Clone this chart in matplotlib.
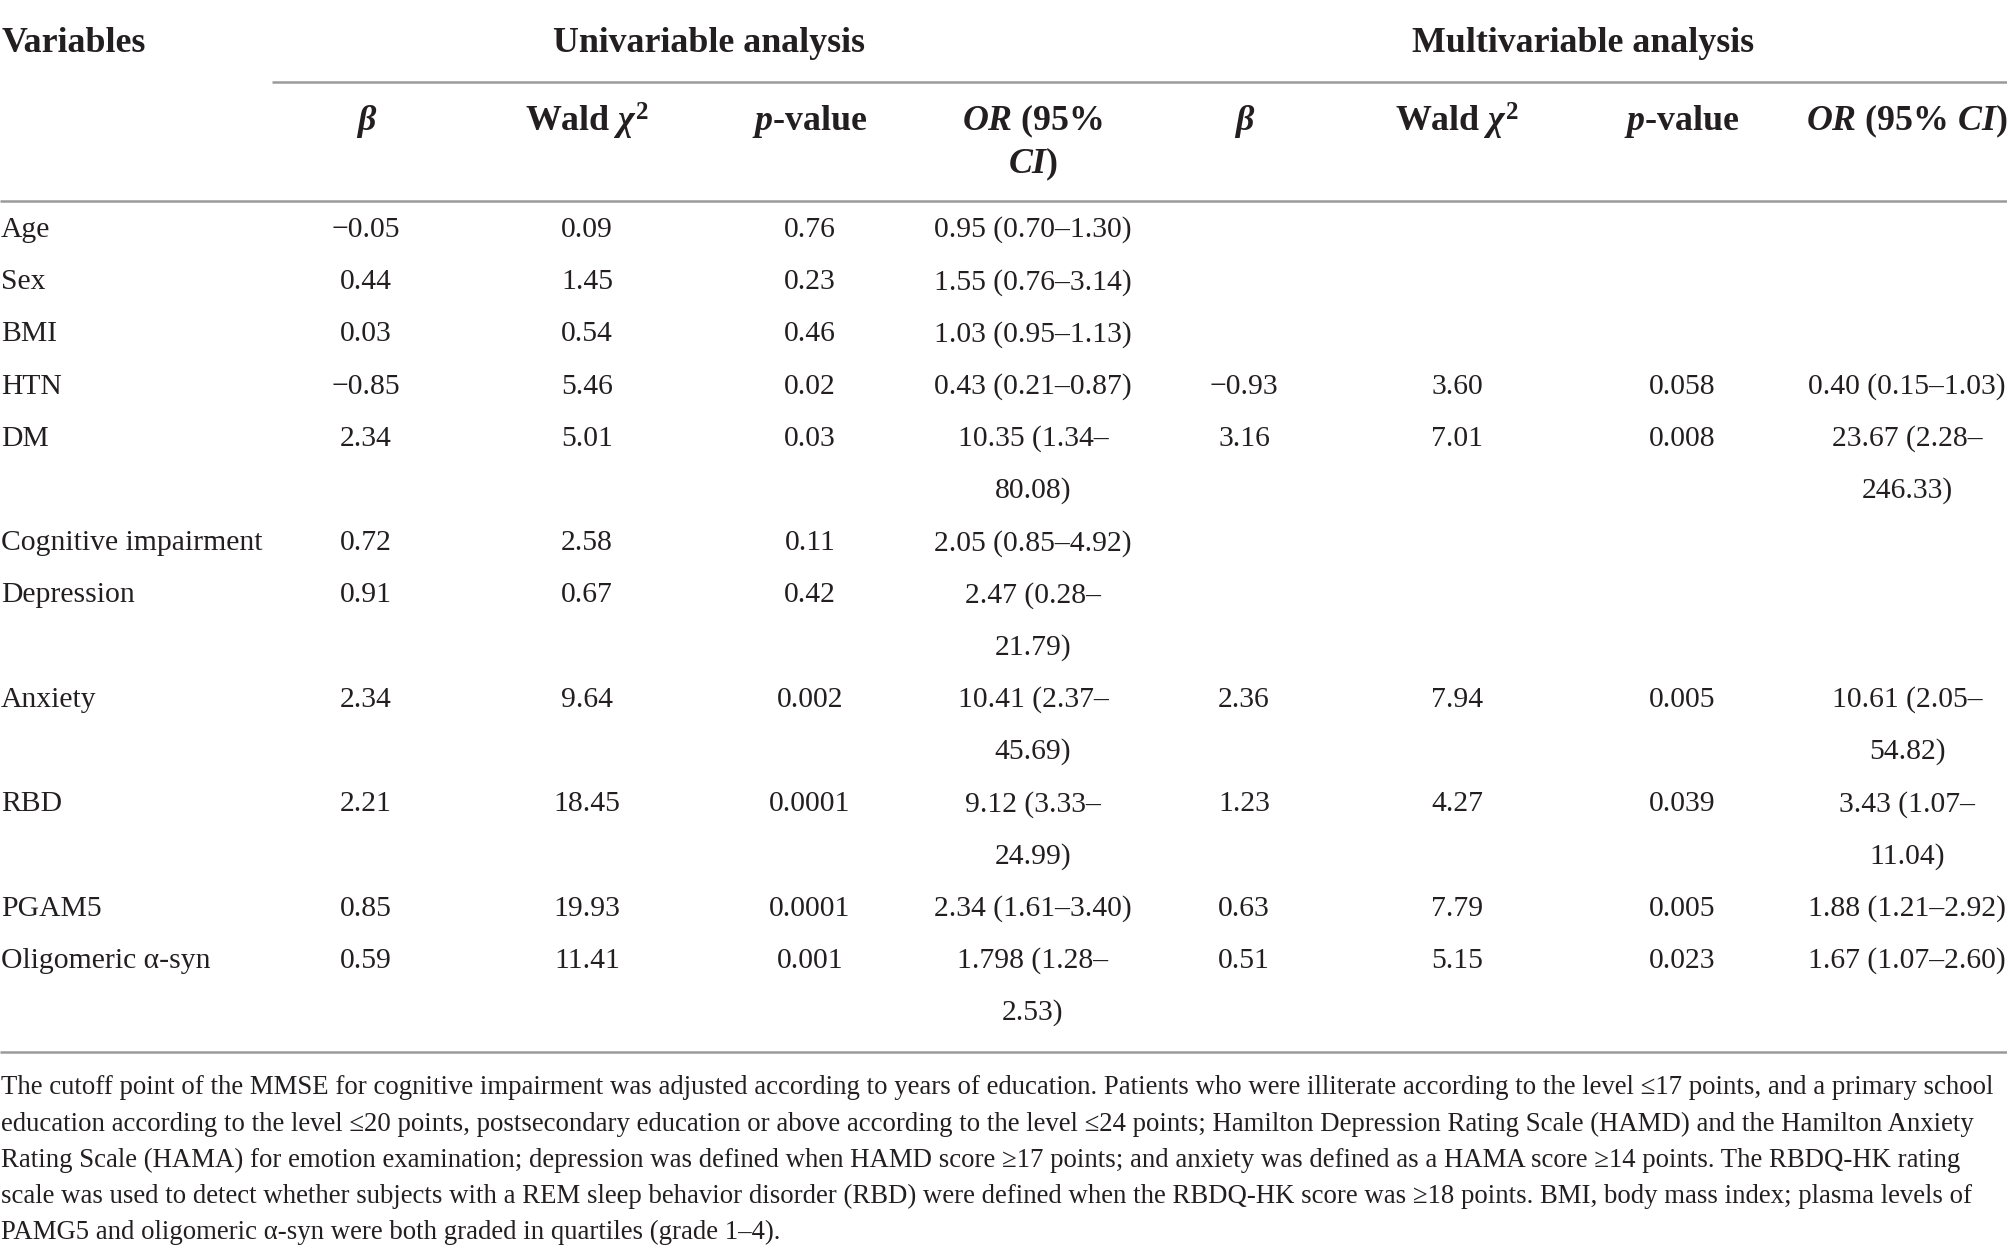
import matplotlib
matplotlib.use('Agg')
import matplotlib.pyplot as plt

# table content
variables = ['Age', 'Sex', 'BMI', 'HTN', 'DM', 'Cognitive impairment', 'Depression',
             'Anxiety', 'RBD', 'PGAM5', 'Oligomeric α-syn']
uni_beta = ['−0.05', '0.44', '0.03', '−0.85', '2.34', '0.72', '0.91', '2.34', '2.21', '0.85', '0.59']
uni_wald = ['0.09', '1.45', '0.54', '5.46', '5.01', '2.58', '0.67', '9.64', '18.45', '19.93', '11.41']
uni_p = ['0.76', '0.23', '0.46', '0.02', '0.03', '0.11', '0.42', '0.002', '0.0001', '0.0001', '0.001']
uni_or = ['0.95 (0.70–1.30)', '1.55 (0.76–3.14)', '1.03 (0.95–1.13)', '0.43 (0.21–0.87)',
          '10.35 (1.34–\n80.08)', '2.05 (0.85–4.92)', '2.47 (0.28–\n21.79)', '10.41 (2.37–\n45.69)',
          '9.12 (3.33–\n24.99)', '2.34 (1.61–3.40)', '1.798 (1.28–\n2.53)']
multi_beta = ['', '', '', '−0.93', '3.16', '', '', '2.36', '1.23', '0.63', '0.51']
multi_wald = ['', '', '', '3.60', '7.01', '', '', '7.94', '4.27', '7.79', '5.15']
multi_p = ['', '', '', '0.058', '0.008', '', '', '0.005', '0.039', '0.005', '0.023']
multi_or = ['', '', '', '0.40 (0.15–1.03)', '23.67 (2.28–\n246.33)', '', '',
            '10.61 (2.05–\n54.82)', '3.43 (1.07–\n11.04)', '1.88 (1.21–2.92)', '1.67 (1.07–2.60)']

col_headers = ['β', r'Wald $\chi^2$', '$p$-value', '$OR$ (95%\n$CI$)',
               'β', r'Wald $\chi^2$', '$p$-value', '$OR$ (95% $CI$)']

footnote = [
    'The cutoff point of the MMSE for cognitive impairment was adjusted according to years of education. '
    'Patients who were illiterate according to the level ≤17 points, and a primary school',
    'education according to the level ≤20 points, postsecondary education or above according to the level '
    '≤24 points; Hamilton Depression Rating Scale (HAMD) and the Hamilton Anxiety',
    'Rating Scale (HAMA) for emotion examination; depression was defined when HAMD score ≥17 points; '
    'and anxiety was defined as a HAMA score ≥14 points. The RBDQ-HK rating',
    'scale was used to detect whether subjects with a REM sleep behavior disorder (RBD) were defined when '
    'the RBDQ-HK score was ≥18 points. BMI, body mass index; plasma levels of',
    'PAMG5 and oligomeric α-syn were both graded in quartiles (grade 1–4).',
]

# style
txt_col = '#231f20'
rule_col = '#9a9a9a'
font = 'Liberation Serif'
plt.rcParams['font.family'] = [font, 'DejaVu Serif']
plt.rcParams['mathtext.fontset'] = 'custom'
plt.rcParams['mathtext.rm'] = font + ':bold'
plt.rcParams['mathtext.bf'] = font + ':bold'
plt.rcParams['mathtext.it'] = font + ':italic:bold'

W, H = 2008, 1258
fig = plt.figure(figsize=(W / 100, H / 100), dpi=100)
ax = fig.add_axes([0, 0, 1, 1])
ax.set_xlim(0, W)
ax.set_ylim(H, 0)
ax.axis('off')
renderer = fig.canvas.get_renderer()


def fit_size(s, target_px, **kw):
    # font size (pt) that gives the wanted text width in pixels
    t = ax.text(0, 0, s, fontsize=20, **kw)
    w = t.get_window_extent(renderer).width
    t.remove()
    return 20 * target_px / w


body_fs = fit_size('Cognitive impairment', 262)
head_fs = fit_size('Univariable analysis', 312, fontweight='bold')
foot_fs = fit_size(footnote[0], 1993)

# rules
ax.plot([272, W], [82, 82], color=rule_col, lw=1.8, solid_capstyle='butt')
ax.plot([0, W], [201, 201], color=rule_col, lw=1.8, solid_capstyle='butt')
ax.plot([0, W], [1052, 1052], color=rule_col, lw=1.8, solid_capstyle='butt')

# top header
ax.text(2, 43, 'Variables', fontsize=head_fs, fontweight='bold', color=txt_col, ha='left', va='center')
ax.text(709, 43, 'Univariable analysis', fontsize=head_fs, fontweight='bold', color=txt_col,
        ha='center', va='center')
ax.text(1583, 43, 'Multivariable analysis', fontsize=head_fs, fontweight='bold', color=txt_col,
        ha='center', va='center')

col_x = [366, 587, 810, 1033, 1244, 1457, 1682, 1907]
head_step = 43
for x, h in zip(col_x, col_headers):
    for k, part in enumerate(h.split('\n')):
        kw = dict(fontstyle='italic') if part == 'β' else {}
        ax.text(x, 121 + k * head_step, part, fontsize=head_fs, fontweight='bold', color=txt_col,
                ha='center', va='center', **kw)

# body rows
columns = [uni_beta, uni_wald, uni_p, uni_or, multi_beta, multi_wald, multi_p, multi_or]
y = 230
step = 52.2
for i, var in enumerate(variables):
    ax.text(1, y, var, fontsize=body_fs, color=txt_col, ha='left', va='center')
    n_lines = 1
    for x, col in zip(col_x, columns):
        parts = col[i].split('\n')
        n_lines = max(n_lines, len(parts))
        for k, part in enumerate(parts):
            ax.text(x, y + k * step, part, fontsize=body_fs, color=txt_col, ha='center', va='center')
    y += n_lines * step

# footnote
for k, line in enumerate(footnote):
    ax.text(1, 1088 + k * 36, line, fontsize=foot_fs, color=txt_col, ha='left', va='center')

fig.savefig('out.png', dpi=100, facecolor='white')
